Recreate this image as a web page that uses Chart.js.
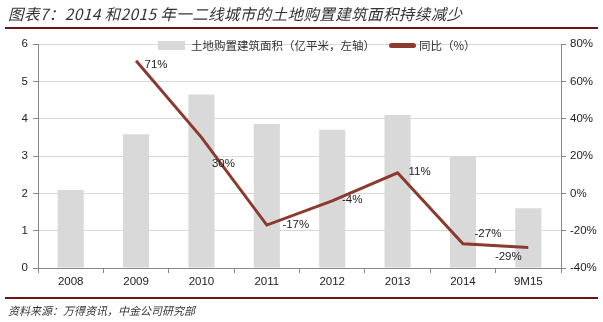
<!DOCTYPE html>
<html lang="zh">
<head>
<meta charset="utf-8">
<script src="https://cdn.jsdelivr.net/npm/chart.js@4.4.1/dist/chart.umd.min.js"></script>
<style>
  html, body { margin: 0; padding: 0; background: #fff; }
  body { width: 603px; height: 322px; position: relative; overflow: hidden;
         font-family: 'Noto Sans CJK SC', sans-serif; }
  .title { position: absolute; left: 8px; top: 2px; font-size: 15.5px; font-style: italic;
           color: #333; letter-spacing: 0.4px; }
  .rule { position: absolute; left: 5px; right: 5px; height: 2px; background: #6e1414; }
  .source { position: absolute; left: 8px; top: 302px; font-size: 11px; font-style: italic; color: #333; }
  .legend { position: absolute; top: 37px; font-size: 11.5px; color: #333; display: flex; align-items: center; }
  .legend .box { width: 27px; height: 9px; background: #d9d9d9; margin-right: 6px; }
  .legend .ln { width: 27px; height: 5px; background: #8b3a2e; border-radius: 3px; margin-right: 3px; }
  #wrap { position: absolute; left: 0; top: 0; width: 603px; height: 322px; }
</style>
</head>
<body>
<div id="wrap"><canvas id="c"></canvas></div>
<div class="title">图表7：2014 和2015 年一二线城市的土地购置建筑面积持续减少</div>
<div class="rule" style="top:27px"></div>
<div class="legend" style="left:158px"><span class="box"></span>土地购置建筑面积（亿平米，左轴）</div>
<div class="legend" style="left:389px"><span class="ln"></span>同比（%）</div>
<div class="rule" style="top:297px"></div>
<div class="source">资料来源：万得资讯，中金公司研究部</div>
<script>
const categories = ['2008', '2009', '2010', '2011', '2012', '2013', '2014', '9M15'];
const areaValues = [2.09, 3.58, 4.65, 3.86, 3.7, 4.1, 3.0, 1.6];
const yoyValues = [null, 71, 30, -17, -4, 11, -27, -29];
const yoyLabels = [null, '71%', '30%', '-17%', '-4%', '11%', '-27%', '-29%'];
// label offsets relative to each point (dx, dy)
const labelOffsets = [null, [20, 4], [22, 26], [29, 0], [20, -1], [22, -1], [25, -10], [-20, 9]];

const pointLabels = {
  id: 'pointLabels',
  afterDatasetsDraw(chart) {
    const meta = chart.getDatasetMeta(1);
    const ctx = chart.ctx;
    ctx.save();
    ctx.font = '11.5px "Liberation Sans", Arial, sans-serif';
    ctx.fillStyle = '#222';
    ctx.textAlign = 'center';
    ctx.textBaseline = 'middle';
    meta.data.forEach((pt, i) => {
      if (yoyLabels[i] == null) return;
      const [dx, dy] = labelOffsets[i];
      ctx.fillText(yoyLabels[i], pt.x + dx, pt.y + dy);
    });
    ctx.restore();
  }
};

const tickFont = { family: '"Liberation Sans", Arial, sans-serif', size: 11.5 };

new Chart(document.getElementById('c'), {
  data: {
    labels: categories,
    datasets: [
      { type: 'bar', label: '土地购置建筑面积（亿平米，左轴）', data: areaValues, yAxisID: 'y',
        backgroundColor: '#d9d9d9', barPercentage: 0.4, categoryPercentage: 1, order: 2 },
      { type: 'line', label: '同比（%）', data: yoyValues, yAxisID: 'y1',
        borderColor: '#8b3a2e', borderWidth: 3, pointRadius: 0, tension: 0, order: 1 }
    ]
  },
  options: {
    responsive: true,
    maintainAspectRatio: false,
    animation: false,
    layout: { padding: { top: 44, bottom: 30, left: 0, right: 0 } },
    plugins: { legend: { display: false }, tooltip: { enabled: false } },
    scales: {
      x: {
        offset: true,
        grid: { offset: true, drawOnChartArea: false, color: '#888', tickLength: 5 },
        border: { color: '#888' },
        ticks: { color: '#222', font: tickFont, padding: 2 },
        afterFit(s) { s.height = 24; }
      },
      y: {
        position: 'left', min: 0, max: 6,
        ticks: { stepSize: 1, color: '#222', font: tickFont, padding: 5 },
        grid: { color: '#d9d9d9', tickColor: '#888', tickLength: 5 },
        border: { color: '#888' },
        afterFit(s) { s.width = 38; }
      },
      y1: {
        position: 'right', min: -40, max: 80,
        ticks: { stepSize: 20, color: '#222', font: tickFont, padding: 4,
                 callback: v => v + '%' },
        grid: { drawOnChartArea: false, color: '#888', tickLength: 5 },
        border: { color: '#888' },
        afterFit(s) { s.width = 42; }
      }
    }
  },
  plugins: [pointLabels]
});
</script>
</body>
</html>
